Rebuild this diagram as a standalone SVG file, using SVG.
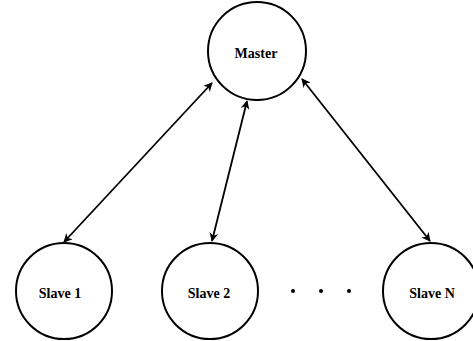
<svg xmlns="http://www.w3.org/2000/svg" width="473" height="341" viewBox="0 0 473 341">
<defs>
<style>
.node{fill:#fff;stroke:#000;stroke-width:2}
.lbl{font-family:"Liberation Serif","Times New Roman",serif;font-weight:bold;font-size:14px;text-anchor:middle;fill:#000}
.edge{stroke:#000;stroke-width:1.8;fill:none;marker-start:url(#ah);marker-end:url(#ah)}
.dot{fill:#000}
</style>
<marker id="ah" viewBox="0 0 10 10" refX="9" refY="5" markerWidth="5" markerHeight="5" orient="auto-start-reverse" markerUnits="strokeWidth">
<path d="M0,0 L10,5 L0,10 L3,5 Z" fill="#000"/>
</marker>
</defs>
<rect width="473" height="341" fill="#fff"/>
<g id="connectors">
<line class="edge" x1="212" y1="83" x2="64" y2="242"/>
<line class="edge" x1="247" y1="101" x2="212" y2="241"/>
<line class="edge" x1="302" y1="79" x2="430" y2="241"/>
</g>
<g id="master">
<circle class="node" cx="257" cy="51" r="49"/>
<text class="lbl" x="256" y="58">Master</text>
</g>
<g id="slave1">
<circle class="node" cx="64" cy="291" r="48"/>
<text class="lbl" x="60" y="298">Slave 1</text>
</g>
<g id="slave2">
<circle class="node" cx="210" cy="291" r="48"/>
<text class="lbl" x="209" y="298">Slave 2</text>
</g>
<g id="ellipsis">
<circle class="dot" cx="293" cy="291" r="2"/>
<circle class="dot" cx="321" cy="291" r="2"/>
<circle class="dot" cx="349" cy="291" r="2"/>
</g>
<g id="slaveN">
<circle class="node" cx="431" cy="291" r="48"/>
<text class="lbl" x="432" y="298">Slave N</text>
</g>
</svg>
